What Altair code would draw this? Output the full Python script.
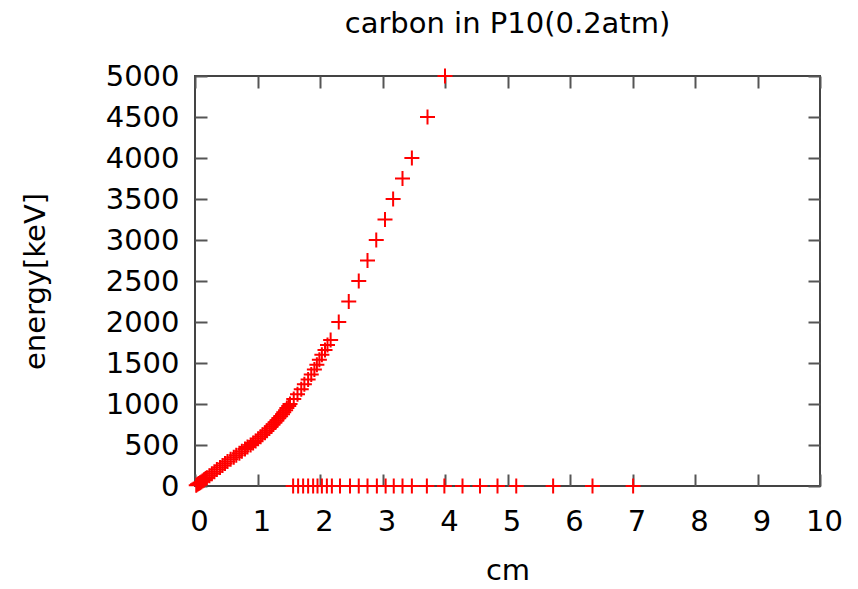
import altair as alt
import pandas as pd

# Upper branch: energy [keV] vs range [cm]
energy_keV = [10, 20, 30, 40, 50, 60, 70, 80, 90, 100,
              125, 150, 175, 200, 225, 250, 275, 300, 325, 350,
              375, 400, 425, 450, 475, 500, 525, 550, 575, 600,
              625, 650, 675, 700, 725, 750, 775, 800, 825, 850,
              875, 900, 925, 950, 975, 1000,
              1060, 1120, 1180, 1240, 1300, 1360, 1420, 1480,
              1540, 1600, 1660, 1720, 1780,
              2000, 2250, 2500, 2750, 3000, 3250, 3500, 3750, 4000, 4500, 5000]
range_cm = [0.02, 0.04, 0.06, 0.08, 0.10, 0.12, 0.14, 0.15, 0.17, 0.19,
            0.23, 0.27, 0.31, 0.35, 0.40, 0.44, 0.48, 0.52, 0.57, 0.62,
            0.66, 0.71, 0.75, 0.80, 0.84, 0.89, 0.93, 0.97, 1.01, 1.05,
            1.08, 1.12, 1.15, 1.19, 1.22, 1.25, 1.28, 1.31, 1.34, 1.37,
            1.40, 1.42, 1.45, 1.47, 1.50, 1.52,
            1.58, 1.64, 1.70, 1.75, 1.81, 1.86, 1.91, 1.95,
            1.99, 2.03, 2.08, 2.12, 2.17,
            2.30, 2.46, 2.62, 2.76, 2.90, 3.04, 3.17, 3.32, 3.47, 3.72, 4.00]

# Lower branch: points lying on the zero-energy line
zero_cm = [1.57, 1.65, 1.73, 1.81, 1.89, 1.96, 2.03, 2.11, 2.19, 2.32,
           2.48, 2.62, 2.76, 2.91, 3.05, 3.18, 3.32, 3.47, 3.71, 3.99,
           4.28, 4.56, 4.84, 5.14, 5.73, 6.36, 7.01]
zero_keV = [0, 0, 0, 0, 0, 0, 0, 0, 0, 0,
            0, 0, 0, 0, 0, 0, 0, 0, 0, 0,
            0, 0, 0, 0, 0, 0, 0]

x_ticks = [0, 1, 2, 3, 4, 5, 6, 7, 8, 9, 10]
y_ticks = [0, 500, 1000, 1500, 2000, 2500, 3000, 3500, 4000, 4500, 5000]

df = pd.DataFrame({
    "cm": range_cm + zero_cm,
    "keV": energy_keV + zero_keV,
})

W, H = 625, 410
FONT = "DejaVu Sans"
FS = 29
TICK_COL = "#555555"

xs = alt.Scale(domain=[0, 10], nice=False, zero=False)
ys = alt.Scale(domain=[0, 5000], nice=False, zero=False)

cross = "M-1,0L1,0M0,-1L0,1"

points = alt.Chart(df).mark_point(
    shape=cross, filled=False, color="#ff0000", strokeWidth=2, size=225, opacity=1
).encode(
    x=alt.X("cm:Q", scale=xs, title="cm",
            axis=alt.Axis(orient="bottom", values=x_ticks, ticks=False, tickSize=0,
                          domain=False, grid=False, labelPadding=21, labelOffset=4,
                          labelFlush=False, format="d",
                          titleX=W / 2, titleY=93, titleBaseline="alphabetic",
                          titleAlign="center", titleAnchor="middle")),
    y=alt.Y("keV:Q", scale=ys, title="energy[keV]",
            axis=alt.Axis(orient="left", values=y_ticks, ticks=False, tickSize=0,
                          domain=False, grid=False, labelPadding=16, format="d",
                          labelFlush=False,
                          titleX=-160, titleY=H / 2, titleAngle=270,
                          titleBaseline="middle", titleAlign="center")),
)

def tick_axis(orient, offset):
    return alt.Axis(orient=orient, offset=offset, labels=False, domain=False,
                    ticks=True, tickSize=12, tickWidth=2, tickColor=TICK_COL,
                    grid=False,
                    values=x_ticks if orient in ("top", "bottom") else y_ticks)

ticks_a = alt.Chart(df).mark_point(opacity=0).encode(
    x=alt.X("cm:Q", scale=xs, title=None, axis=tick_axis("top", -H)),
    y=alt.Y("keV:Q", scale=ys, title=None, axis=tick_axis("right", -W)),
)
ticks_b = alt.Chart(df).mark_point(opacity=0).encode(
    x=alt.X("cm:Q", scale=xs, title=None, axis=tick_axis("bottom", -H)),
    y=alt.Y("keV:Q", scale=ys, title=None, axis=tick_axis("left", -W)),
)

chart = alt.layer(ticks_a, ticks_b, points).resolve_axis(
    x="independent", y="independent"
).properties(
    width=W, height=H,
    autosize=alt.AutoSizeParams(type="none"),
    padding={"left": 187, "top": 68, "right": 30, "bottom": 95},
    title=alt.TitleParams("carbon in P10(0.2atm)", font=FONT, fontSize=FS,
                          fontWeight="normal", color="#000000", anchor="middle",
                          frame="group", baseline="alphabetic", offset=0),
).configure_view(
    stroke="#444444", strokeWidth=2
).configure_axis(
    labelFont=FONT, labelFontSize=FS, labelColor="#000000",
    titleFont=FONT, titleFontSize=FS, titleColor="#000000", titleFontWeight="normal",
)

chart.save("out.html", embed_options={"renderer": "svg", "actions": False})
